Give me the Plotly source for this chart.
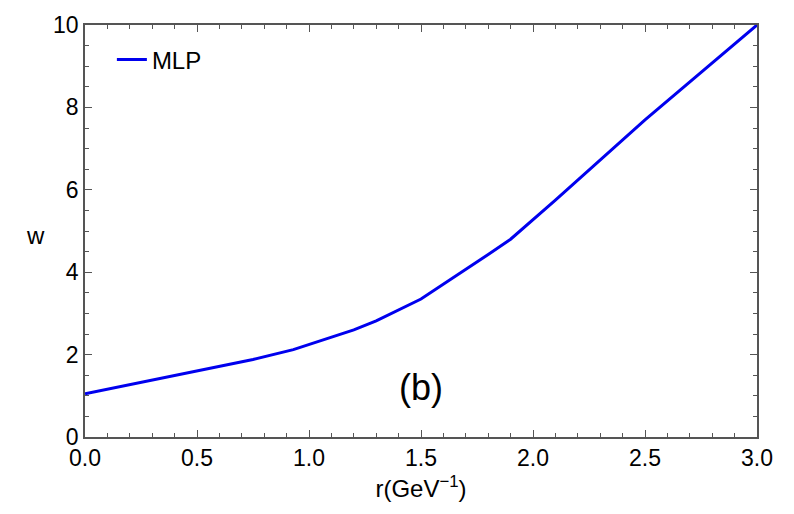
import plotly.graph_objects as go

r_vals = [0.0, 0.25, 0.5, 0.75, 0.93, 1.2, 1.3, 1.5, 1.8, 1.9, 2.1, 2.5, 3.0]
w_vals = [1.05, 1.33, 1.6, 1.88, 2.12, 2.6, 2.82, 3.35, 4.43, 4.8, 5.75, 7.7, 10.0]
x_ticks = [0.0, 0.5, 1.0, 1.5, 2.0, 2.5, 3.0]
y_ticks = [0, 2, 4, 6, 8, 10]

FONT = "Liberation Sans, Arial, sans-serif"

fig = go.Figure()
fig.add_trace(go.Scatter(x=r_vals, y=w_vals, mode="lines", name="MLP",
                         line=dict(color="#0000ee", width=3)))

axis_common = dict(showgrid=False, zeroline=False, showline=True, linecolor="#555555",
                   linewidth=1.5, ticks="inside", mirror="allticks", tickcolor="#555555",
                   ticklen=7, tickwidth=1.2,
                   tickfont=dict(family=FONT, size=23, color="black"))

fig.update_xaxes(range=[0, 3], tickvals=x_ticks, tickformat=".1f",
                 minor=dict(dtick=0.1, ticks="inside", ticklen=4, tickcolor="#555555", tickwidth=1),
                 title=dict(text="r(GeV<sup>−1</sup>)", font=dict(family=FONT, size=24, color="black"),
                            standoff=10),
                 **axis_common)
fig.update_yaxes(range=[0, 10], tickvals=y_ticks,
                 minor=dict(dtick=0.5, ticks="inside", ticklen=4, tickcolor="#555555", tickwidth=1),
                 **axis_common)

fig.add_annotation(x=-0.074, y=0.49, xref="paper", yref="paper", text="w", showarrow=False,
                   xanchor="center", yanchor="middle",
                   font=dict(family=FONT, size=24, color="black"))

fig.add_annotation(x=1.5, y=1.2, text="(b)", showarrow=False, xref="x", yref="y",
                   font=dict(family=FONT, size=36, color="black"))

fig.update_layout(width=794, height=514, margin=dict(l=85, r=37, t=21, b=77),
                  plot_bgcolor="white", paper_bgcolor="white",
                  legend=dict(x=0.04, y=0.97, xanchor="left", yanchor="top",
                              bgcolor="rgba(0,0,0,0)",
                              font=dict(family=FONT, size=24, color="black")),
                  showlegend=True)

fig.write_html("out.html")
